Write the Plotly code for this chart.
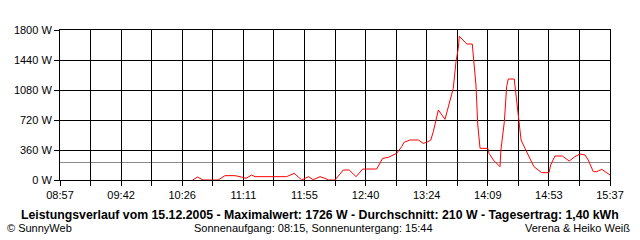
import plotly.graph_objects as go
from datetime import datetime, timedelta

# ---- data ----
times = ["10:33:30", "10:37:00", "10:41:00", "10:52:00", "10:57:00", "11:04:20", "11:09:00",
         "11:12:20", "11:16:20", "11:18:50", "11:41:50", "11:47:20", "11:52:50", "11:57:40",
         "12:01:10", "12:06:10", "12:09:40", "12:12:10", "12:17:00", "12:23:00", "12:27:20",
         "12:32:20", "12:37:10", "12:47:20", "12:51:40", "12:55:50", "13:01:50", "13:05:30",
         "13:07:10", "13:11:30", "13:17:40", "13:21:10", "13:23:40", "13:26:40", "13:28:30",
         "13:32:10", "13:37:00", "13:40:40", "13:43:00", "13:45:00", "13:46:40", "13:47:25",
         "13:50:20", "13:52:50", "13:56:50", "13:57:40", "13:59:30", "14:00:50", "14:02:30",
         "14:08:10", "14:09:00", "14:12:10", "14:17:00", "14:17:40", "14:20:10", "14:21:50",
         "14:23:00", "14:27:20", "14:28:20", "14:29:50", "14:30:50", "14:32:20", "14:35:10",
         "14:38:50", "14:41:40", "14:47:20", "14:52:40", "14:53:50", "14:57:00", "15:02:20",
         "15:07:20", "15:11:30", "15:15:10", "15:18:50", "15:21:10", "15:24:50", "15:27:20",
         "15:31:00", "15:33:20", "15:37:00"]
watts = [0, 36, 0, 0, 52, 52, 36,
         20, 60, 40, 40, 80, 0, 40,
         4, 40, 20, 0, 0, 120, 120,
         40, 132, 132, 260, 272, 320, 400,
         452, 480, 480, 440, 452, 480, 580,
         840, 728, 960, 1100, 1420, 1580, 1726,
         1680, 1632, 1632, 1460, 1140, 660, 380,
         380, 320, 240, 160, 360, 700, 1120,
         1212, 1212, 1080, 840, 700, 480, 380,
         260, 160, 88, 88, 180, 288, 288,
         228, 280, 312, 300, 240, 100, 100,
         128, 100, 60]
average_w = 210
y_ticks = [0, 360, 720, 1080, 1440, 1800]
y_labels = ["0 W", "360 W", "720 W", "1080 W", "1440 W", "1800 W"]
x_labels = ["08:57", "09:42", "10:26", "11:11", "11:55", "12:40", "13:24", "14:09", "14:53", "15:37"]

day = "2005-12-15 "
xs = [day + t for t in times]

start = datetime(2005, 12, 15, 8, 57)
end = datetime(2005, 12, 15, 15, 37)
span = (end - start)
n = len(x_labels) - 1
tickvals = [start + span * i / n for i in range(n + 1)]
minor_vals = [start + span * (2 * i + 1) / (2 * n) for i in range(n)]

fig = go.Figure()
fig.add_trace(go.Scatter(x=xs, y=watts, mode="lines",
                         line=dict(color="#ff0000", width=1), hoverinfo="skip"))

fig.add_shape(type="line", xref="paper", yref="y", x0=0, x1=1, y0=average_w, y1=average_w,
              line=dict(color="#8c8c8c", width=1), layer="below")

font = "Liberation Sans"
fig.update_layout(
    width=640, height=240,
    margin=dict(l=60, r=30, t=30, b=60),
    paper_bgcolor="white", plot_bgcolor="white",
    showlegend=False,
    font=dict(family=font, size=11, color="black"),
    xaxis=dict(type="date", range=[start, end], tickmode="array", tickvals=tickvals,
               ticktext=x_labels, ticks="outside", ticklen=5, tickcolor="black",
               showgrid=True, gridcolor="black", gridwidth=1,
               showline=True, linecolor="black", linewidth=1, mirror=True,
               zeroline=False, layer="above traces",
               minor=dict(tickmode="array", tickvals=minor_vals, ticks="outside", ticklen=5,
                          tickcolor="black", showgrid=True, gridcolor="black", gridwidth=1),
               tickfont=dict(family=font, size=11)),
    yaxis=dict(range=[0, 1800], tickmode="array", tickvals=y_ticks, ticktext=y_labels,
               ticks="outside", ticklen=5, tickcolor="black",
               showgrid=True, gridcolor="black", gridwidth=1,
               showline=True, linecolor="black", linewidth=1, mirror=True,
               zeroline=False, layer="above traces",
               tickfont=dict(family=font, size=11)),
)

fig.add_annotation(text="<b>Leistungsverlauf vom 15.12.2005 - Maximalwert: 1726 W - Durchschnitt: 210 W - Tagesertrag: 1,40 kWh</b>",
                   xref="paper", yref="paper", x=(320 - 60) / 550, y=-0.235, xanchor="center", yanchor="middle",
                   showarrow=False, font=dict(family=font, size=12.3, color="black"))
fig.add_annotation(text="© SunnyWeb", xref="paper", yref="paper", x=-0.1, y=-0.32,
                   xanchor="left", yanchor="middle", showarrow=False,
                   font=dict(family=font, size=11, color="black"))
fig.add_annotation(text="Sonnenaufgang: 08:15, Sonnenuntergang: 15:44", xref="paper", yref="paper",
                   x=(313 - 60) / 550, y=-0.32, xanchor="center", yanchor="middle", showarrow=False,
                   font=dict(family=font, size=11, color="black"))
fig.add_annotation(text="Verena &amp; Heiko Weiß", xref="paper", yref="paper", x=(632 - 60) / 550, y=-0.32,
                   xanchor="right", yanchor="middle", showarrow=False,
                   font=dict(family=font, size=11, color="black"))

fig.write_html("out.html")
